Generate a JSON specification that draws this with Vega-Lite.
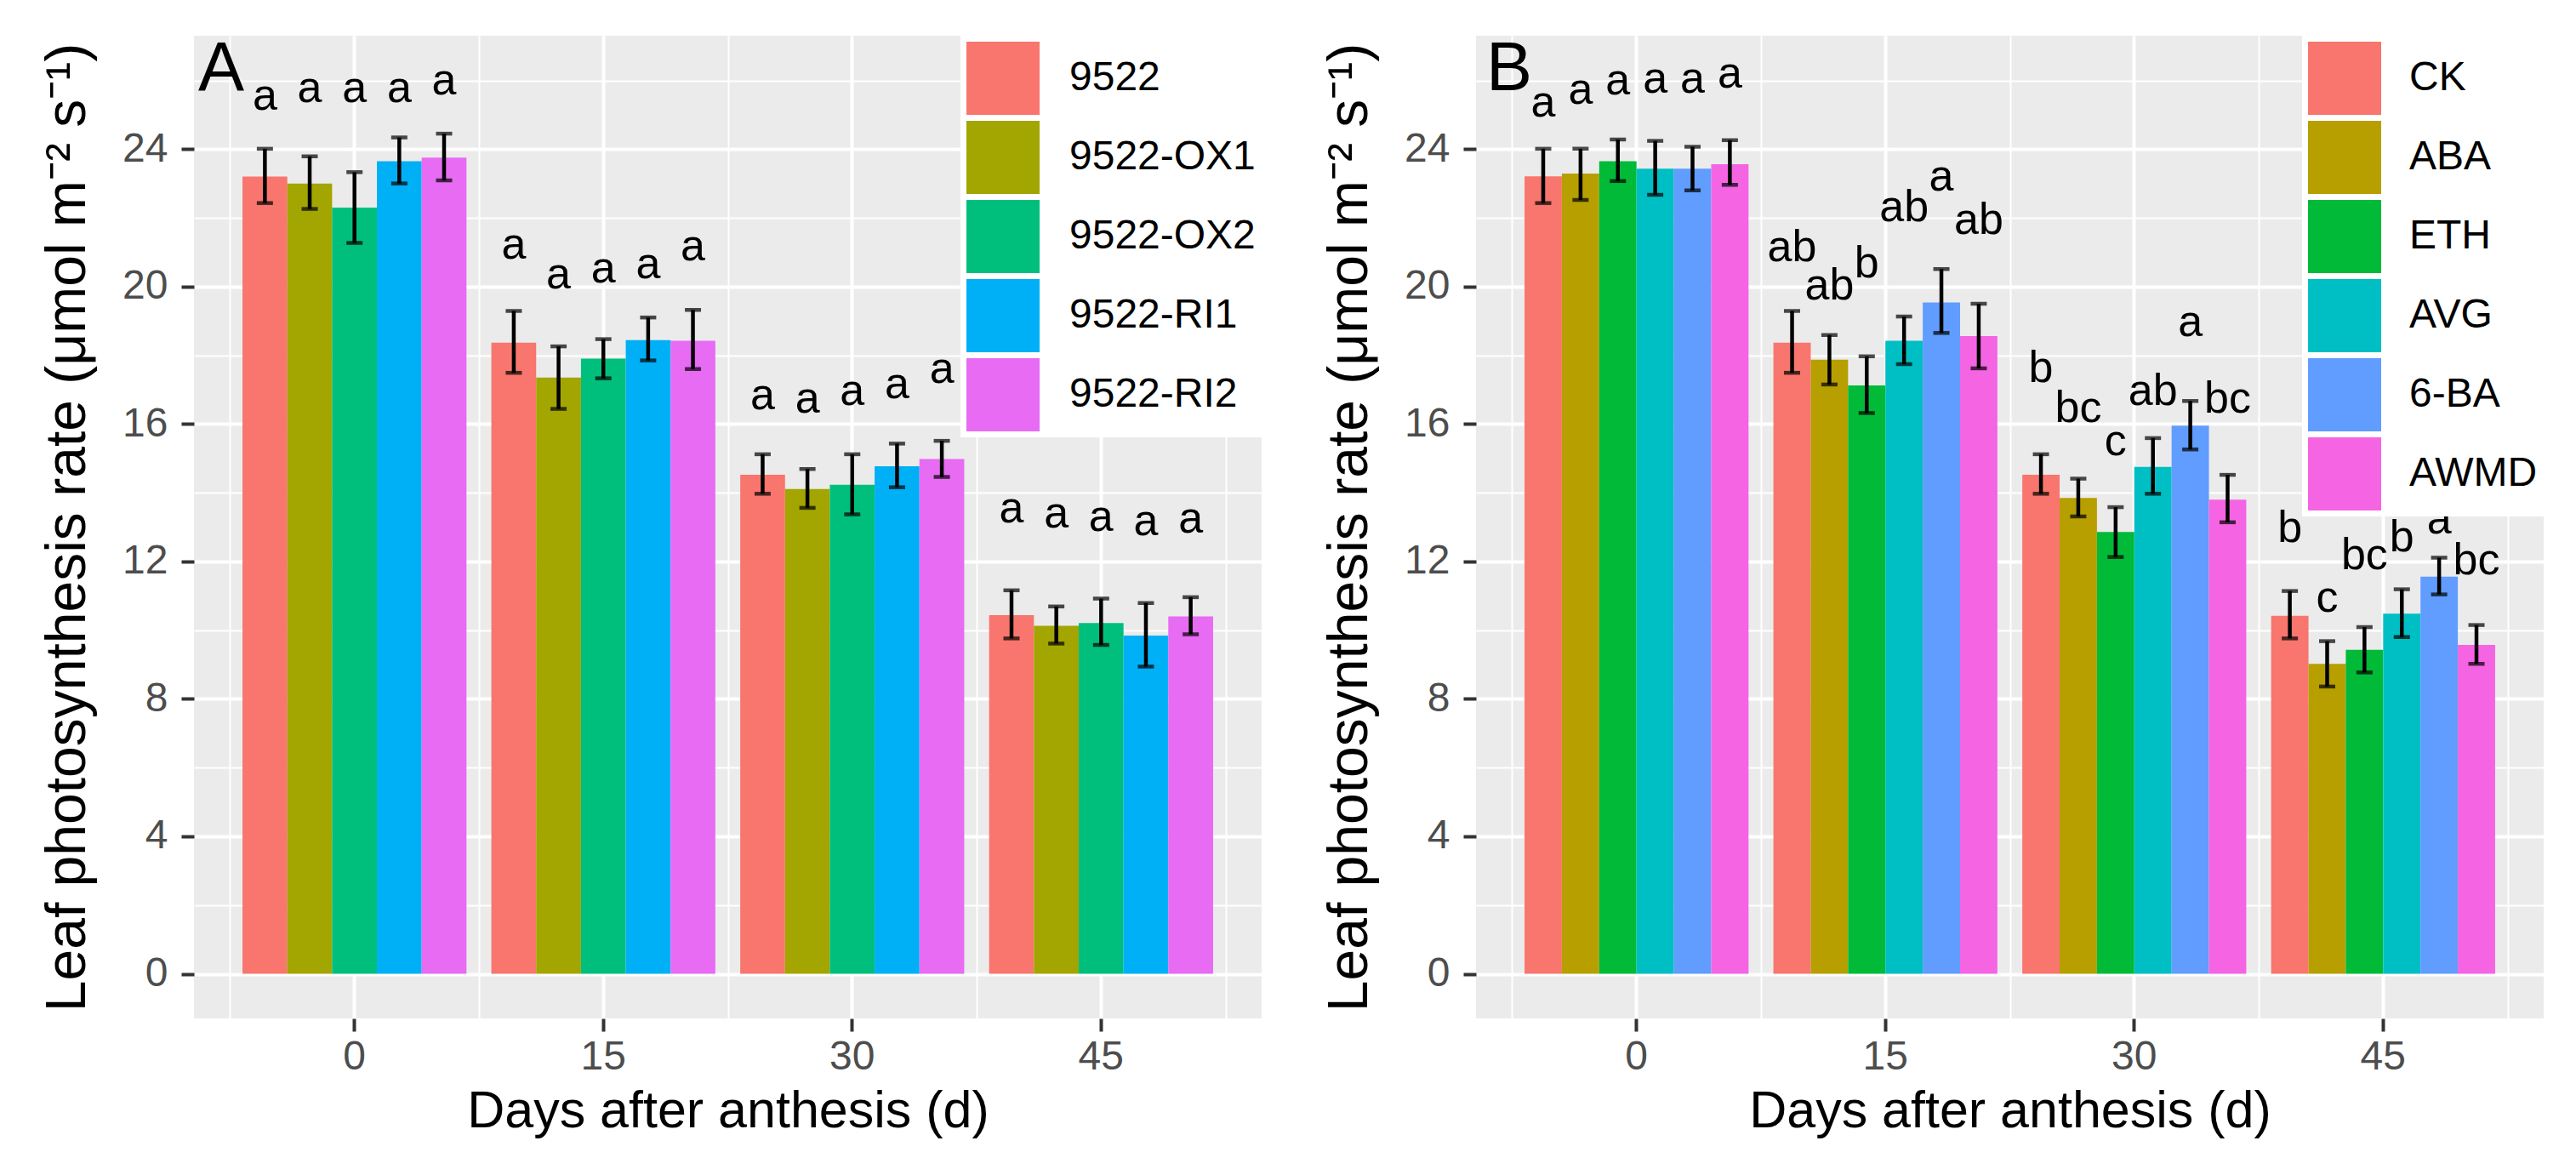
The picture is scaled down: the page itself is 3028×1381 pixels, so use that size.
{
  "$schema": "https://vega.github.io/schema/vega-lite/v6.json",
  "background": "white",
  "padding": {"left": 46, "top": 41, "right": 10, "bottom": 10},
  "spacing": 70,
  "resolve": {
    "scale": {"color": "independent", "xOffset": "independent", "x": "independent", "y": "independent"},
    "legend": {"color": "independent"}
  },
  "config": {
    "font": "Liberation Sans",
    "view": {"fill": "#EBEBEB", "stroke": null},
    "axis": {
      "labelFont": "Liberation Sans",
      "titleFont": "Liberation Sans",
      "labelFontSize": 48,
      "labelColor": "#4D4D4D",
      "titleFontSize": 61,
      "titleColor": "#000000",
      "titleFontWeight": "normal",
      "tickColor": "#333333",
      "tickSize": 15,
      "tickWidth": 4,
      "domain": false,
      "gridColor": "#FFFFFF",
      "gridOpacity": 1,
      "zindex": -2
    },
    "legend": {
      "title": null,
      "orient": "top-right",
      "offset": 0,
      "padding": 7,
      "fillColor": "#FFFFFF",
      "symbolType": "square",
      "symbolSize": 7396,
      "symbolStrokeWidth": 0,
      "symbolOpacity": 1,
      "labelFont": "Liberation Sans",
      "labelFontSize": 48,
      "labelColor": "#000000",
      "labelLimit": 400,
      "rowPadding": 7,
      "zindex": -1
    },
    "title": {
      "font": "Liberation Sans",
      "fontSize": 81,
      "fontWeight": "normal",
      "color": "#000000",
      "anchor": "start",
      "frame": "group",
      "offset": 0,
      "baseline": "alphabetic",
      "dy": 85
    }
  },
  "datasets": {
    "lines": [
      {"day": 0, "group": "9522", "mean": 23.2, "low": 22.43, "high": 24.01, "letter": "a", "label_y": 25.15},
      {"day": 0, "group": "9522-OX1", "mean": 23.0, "low": 22.26, "high": 23.79, "letter": "a", "label_y": 25.38},
      {"day": 0, "group": "9522-OX2", "mean": 22.3, "low": 21.27, "high": 23.33, "letter": "a", "label_y": 25.36},
      {"day": 0, "group": "9522-RI1", "mean": 23.65, "low": 23.0, "high": 24.34, "letter": "a", "label_y": 25.36},
      {"day": 0, "group": "9522-RI2", "mean": 23.75, "low": 23.09, "high": 24.45, "letter": "a", "label_y": 25.6},
      {"day": 15, "group": "9522", "mean": 18.37, "low": 17.49, "high": 19.29, "letter": "a", "label_y": 20.82},
      {"day": 15, "group": "9522-OX1", "mean": 17.35, "low": 16.44, "high": 18.26, "letter": "a", "label_y": 19.95},
      {"day": 15, "group": "9522-OX2", "mean": 17.9, "low": 17.33, "high": 18.47, "letter": "a", "label_y": 20.12},
      {"day": 15, "group": "9522-RI1", "mean": 18.44, "low": 17.85, "high": 19.1, "letter": "a", "label_y": 20.24},
      {"day": 15, "group": "9522-RI2", "mean": 18.42, "low": 17.6, "high": 19.32, "letter": "a", "label_y": 20.77},
      {"day": 30, "group": "9522", "mean": 14.52, "low": 13.97, "high": 15.12, "letter": "a", "label_y": 16.44},
      {"day": 30, "group": "9522-OX1", "mean": 14.11, "low": 13.56, "high": 14.69, "letter": "a", "label_y": 16.34},
      {"day": 30, "group": "9522-OX2", "mean": 14.23, "low": 13.37, "high": 15.12, "letter": "a", "label_y": 16.55},
      {"day": 30, "group": "9522-RI1", "mean": 14.77, "low": 14.16, "high": 15.43, "letter": "a", "label_y": 16.75},
      {"day": 30, "group": "9522-RI2", "mean": 14.98, "low": 14.46, "high": 15.51, "letter": "a", "label_y": 17.19},
      {"day": 45, "group": "9522", "mean": 10.44, "low": 9.76, "high": 11.16, "letter": "a", "label_y": 13.14},
      {"day": 45, "group": "9522-OX1", "mean": 10.13, "low": 9.61, "high": 10.69, "letter": "a", "label_y": 12.98},
      {"day": 45, "group": "9522-OX2", "mean": 10.21, "low": 9.57, "high": 10.92, "letter": "a", "label_y": 12.9},
      {"day": 45, "group": "9522-RI1", "mean": 9.84, "low": 8.94, "high": 10.79, "letter": "a", "label_y": 12.77},
      {"day": 45, "group": "9522-RI2", "mean": 10.4, "low": 9.88, "high": 10.96, "letter": "a", "label_y": 12.85}
    ],
    "treatments": [
      {"day": 0, "group": "CK", "mean": 23.21, "low": 22.43, "high": 24.01, "letter": "a", "label_y": 24.94},
      {"day": 0, "group": "ABA", "mean": 23.29, "low": 22.52, "high": 24.01, "letter": "a", "label_y": 25.33},
      {"day": 0, "group": "ETH", "mean": 23.65, "low": 23.07, "high": 24.28, "letter": "a", "label_y": 25.6},
      {"day": 0, "group": "AVG", "mean": 23.43, "low": 22.67, "high": 24.24, "letter": "a", "label_y": 25.64},
      {"day": 0, "group": "6-BA", "mean": 23.43, "low": 22.8, "high": 24.07, "letter": "a", "label_y": 25.64},
      {"day": 0, "group": "AWMD", "mean": 23.56, "low": 22.96, "high": 24.26, "letter": "a", "label_y": 25.8},
      {"day": 15, "group": "CK", "mean": 18.37, "low": 17.49, "high": 19.29, "letter": "ab", "label_y": 20.73},
      {"day": 15, "group": "ABA", "mean": 17.87, "low": 17.15, "high": 18.59, "letter": "ab", "label_y": 19.62},
      {"day": 15, "group": "ETH", "mean": 17.12, "low": 16.32, "high": 17.97, "letter": "b", "label_y": 20.28},
      {"day": 15, "group": "AVG", "mean": 18.42, "low": 17.74, "high": 19.13, "letter": "ab", "label_y": 21.89},
      {"day": 15, "group": "6-BA", "mean": 19.54, "low": 18.65, "high": 20.51, "letter": "a", "label_y": 22.8},
      {"day": 15, "group": "AWMD", "mean": 18.56, "low": 17.62, "high": 19.5, "letter": "ab", "label_y": 21.53},
      {"day": 30, "group": "CK", "mean": 14.52, "low": 13.97, "high": 15.12, "letter": "b", "label_y": 17.23},
      {"day": 30, "group": "ABA", "mean": 13.85, "low": 13.31, "high": 14.41, "letter": "bc", "label_y": 16.07},
      {"day": 30, "group": "ETH", "mean": 12.86, "low": 12.13, "high": 13.58, "letter": "c", "label_y": 15.09},
      {"day": 30, "group": "AVG", "mean": 14.75, "low": 13.97, "high": 15.59, "letter": "ab", "label_y": 16.55},
      {"day": 30, "group": "6-BA", "mean": 15.95, "low": 15.26, "high": 16.67, "letter": "a", "label_y": 18.55},
      {"day": 30, "group": "AWMD", "mean": 13.8, "low": 13.14, "high": 14.52, "letter": "bc", "label_y": 16.34},
      {"day": 45, "group": "CK", "mean": 10.42, "low": 9.76, "high": 11.14, "letter": "b", "label_y": 12.57},
      {"day": 45, "group": "ABA", "mean": 9.02, "low": 8.36, "high": 9.68, "letter": "c", "label_y": 10.54},
      {"day": 45, "group": "ETH", "mean": 9.43, "low": 8.77, "high": 10.09, "letter": "bc", "label_y": 11.78},
      {"day": 45, "group": "AVG", "mean": 10.48, "low": 9.8, "high": 11.19, "letter": "b", "label_y": 12.29},
      {"day": 45, "group": "6-BA", "mean": 11.56, "low": 11.04, "high": 12.11, "letter": "a", "label_y": 12.81},
      {"day": 45, "group": "AWMD", "mean": 9.57, "low": 9.02, "high": 10.15, "letter": "bc", "label_y": 11.63}
    ]
  },
  "hconcat": [
    {
      "width": 1255,
      "height": 1155,
      "title": {"text": "A", "dx": 5},
      "data": {"name": "lines"},
      "layer": [
        {
          "mark": {"type": "bar"},
          "encoding": {
            "x": {
              "field": "day", "type": "ordinal",
              "scale": {"paddingInner": 0, "paddingOuter": 0.145},
              "axis": {"title": "Days after anthesis (d)", "labelAngle": 0, "labelPadding": 6, "titlePadding": 10, "grid": true, "gridWidth": 4}
            },
            "xOffset": {
              "field": "group", "type": "nominal",
              "sort": ["9522", "9522-OX1", "9522-OX2", "9522-RI1", "9522-RI2"],
              "scale": {"paddingInner": 0, "paddingOuter": 0.2778}
            },
            "y": {
              "field": "mean", "type": "quantitative",
              "scale": {"domain": [-1.3, 27.3], "nice": false, "zero": false},
              "axis": {"title": "Leaf photosynthesis rate (μmol m⁻² s⁻¹)", "titleFontSize": 66, "values": [0, 4, 8, 12, 16, 20, 24], "labelPadding": 16, "titlePadding": 30, "grid": true, "gridWidth": 4}
            },
            "y2": {"datum": 0},
            "color": {
              "field": "group", "type": "nominal",
              "sort": ["9522", "9522-OX1", "9522-OX2", "9522-RI1", "9522-RI2"],
              "scale": {"range": ["#F8766D", "#A3A500", "#00BF7D", "#00B0F6", "#E76BF3"]},
              "legend": {"labelOffset": 35}
            }
          }
        },
        {
          "mark": {"type": "rule", "color": "#000000", "strokeWidth": 4.5},
          "encoding": {
            "x": {
              "field": "day", "type": "ordinal",
              "axis": {"orient": "top", "tickBand": "extent", "labels": false, "ticks": false, "domain": false, "title": null, "grid": true, "gridWidth": 2}
            },
            "xOffset": {"field": "group", "type": "nominal", "sort": ["9522", "9522-OX1", "9522-OX2", "9522-RI1", "9522-RI2"]},
            "y": {
              "field": "low", "type": "quantitative",
              "axis": {"orient": "right", "values": [2, 6, 10, 14, 18, 22, 26], "labels": false, "ticks": false, "domain": false, "title": null, "grid": true, "gridWidth": 2}
            },
            "y2": {"field": "high"}
          }
        },
        {
          "mark": {"type": "tick", "color": "#000000", "thickness": 4.5, "size": 19},
          "encoding": {
            "x": {"field": "day", "type": "ordinal", "axis": null},
            "xOffset": {"field": "group", "type": "nominal", "sort": ["9522", "9522-OX1", "9522-OX2", "9522-RI1", "9522-RI2"]},
            "y": {"field": "low", "type": "quantitative", "axis": null}
          }
        },
        {
          "mark": {"type": "tick", "color": "#000000", "thickness": 4.5, "size": 19},
          "encoding": {
            "x": {"field": "day", "type": "ordinal", "axis": null},
            "xOffset": {"field": "group", "type": "nominal", "sort": ["9522", "9522-OX1", "9522-OX2", "9522-RI1", "9522-RI2"]},
            "y": {"field": "high", "type": "quantitative", "axis": null}
          }
        },
        {
          "mark": {"type": "text", "fontSize": 52, "baseline": "alphabetic", "color": "#000000"},
          "encoding": {
            "x": {"field": "day", "type": "ordinal", "axis": null},
            "xOffset": {"field": "group", "type": "nominal", "sort": ["9522", "9522-OX1", "9522-OX2", "9522-RI1", "9522-RI2"]},
            "y": {"field": "label_y", "type": "quantitative", "axis": null},
            "text": {"field": "letter"}
          }
        }
      ],
      "resolve": {"axis": {"x": "independent", "y": "independent"}}
    },
    {
      "width": 1255,
      "height": 1155,
      "title": {"text": "B", "dx": 12},
      "data": {"name": "treatments"},
      "layer": [
        {
          "mark": {"type": "bar"},
          "encoding": {
            "x": {
              "field": "day", "type": "ordinal",
              "scale": {"paddingInner": 0, "paddingOuter": 0.145},
              "axis": {"title": "Days after anthesis (d)", "labelAngle": 0, "labelPadding": 6, "titlePadding": 10, "grid": true, "gridWidth": 4}
            },
            "xOffset": {
              "field": "group", "type": "nominal",
              "sort": ["CK", "ABA", "ETH", "AVG", "6-BA", "AWMD"],
              "scale": {"paddingInner": 0, "paddingOuter": 0.3333}
            },
            "y": {
              "field": "mean", "type": "quantitative",
              "scale": {"domain": [-1.3, 27.3], "nice": false, "zero": false},
              "axis": {"title": "Leaf photosynthesis rate (μmol m⁻² s⁻¹)", "titleFontSize": 66, "values": [0, 4, 8, 12, 16, 20, 24], "labelPadding": 16, "titlePadding": 30, "grid": true, "gridWidth": 4}
            },
            "y2": {"datum": 0},
            "color": {
              "field": "group", "type": "nominal",
              "sort": ["CK", "ABA", "ETH", "AVG", "6-BA", "AWMD"],
              "scale": {"range": ["#F8766D", "#B79F00", "#00BA38", "#00BFC4", "#619CFF", "#F564E3"]},
              "legend": {"labelOffset": 33}
            }
          }
        },
        {
          "mark": {"type": "rule", "color": "#000000", "strokeWidth": 4.5},
          "encoding": {
            "x": {
              "field": "day", "type": "ordinal",
              "axis": {"orient": "top", "tickBand": "extent", "labels": false, "ticks": false, "domain": false, "title": null, "grid": true, "gridWidth": 2}
            },
            "xOffset": {"field": "group", "type": "nominal", "sort": ["CK", "ABA", "ETH", "AVG", "6-BA", "AWMD"]},
            "y": {
              "field": "low", "type": "quantitative",
              "axis": {"orient": "right", "values": [2, 6, 10, 14, 18, 22, 26], "labels": false, "ticks": false, "domain": false, "title": null, "grid": true, "gridWidth": 2}
            },
            "y2": {"field": "high"}
          }
        },
        {
          "mark": {"type": "tick", "color": "#000000", "thickness": 4.5, "size": 19},
          "encoding": {
            "x": {"field": "day", "type": "ordinal", "axis": null},
            "xOffset": {"field": "group", "type": "nominal", "sort": ["CK", "ABA", "ETH", "AVG", "6-BA", "AWMD"]},
            "y": {"field": "low", "type": "quantitative", "axis": null}
          }
        },
        {
          "mark": {"type": "tick", "color": "#000000", "thickness": 4.5, "size": 19},
          "encoding": {
            "x": {"field": "day", "type": "ordinal", "axis": null},
            "xOffset": {"field": "group", "type": "nominal", "sort": ["CK", "ABA", "ETH", "AVG", "6-BA", "AWMD"]},
            "y": {"field": "high", "type": "quantitative", "axis": null}
          }
        },
        {
          "mark": {"type": "text", "fontSize": 52, "baseline": "alphabetic", "color": "#000000"},
          "encoding": {
            "x": {"field": "day", "type": "ordinal", "axis": null},
            "xOffset": {"field": "group", "type": "nominal", "sort": ["CK", "ABA", "ETH", "AVG", "6-BA", "AWMD"]},
            "y": {"field": "label_y", "type": "quantitative", "axis": null},
            "text": {"field": "letter"}
          }
        }
      ],
      "resolve": {"axis": {"x": "independent", "y": "independent"}}
    }
  ]
}
